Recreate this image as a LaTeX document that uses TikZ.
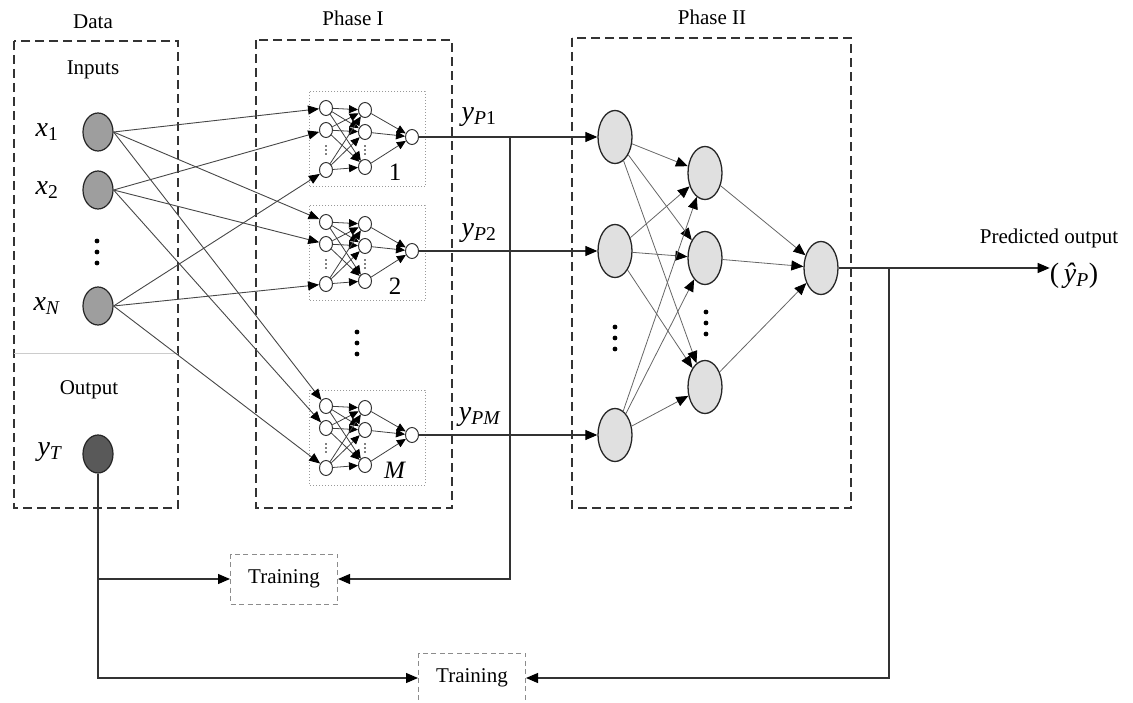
\documentclass[tikz,border=0pt]{standalone}
\usepackage{fontspec}
\setmainfont{Liberation Serif}
\usetikzlibrary{shapes.geometric,arrows.meta,calc}
\newcommand{\setfs}[1]{\fontsize{#1}{#1}\selectfont}
\begin{document}
\begin{tikzpicture}[x=1pt,y=-1pt,
  lbl/.style={font=\setfs{21}, inner sep=0},
  var/.style={font=\setfs{28}, inner sep=0},
  inp/.style={ellipse, draw=black!85, line width=1.2pt, fill=black!38, minimum width=30pt, minimum height=38pt, inner sep=0},
  tgt/.style={inp, fill=black!65},
  sn/.style={ellipse, draw=black!80, line width=1pt, fill=white, minimum width=13pt, minimum height=15pt, inner sep=0},
  bn/.style={ellipse, draw=black!85, line width=1.3pt, fill=black!12, minimum width=34pt, minimum height=53pt, inner sep=0},
  conn/.style={draw=black!80, line width=1.1pt, -{Triangle[length=12pt,width=10pt,color=black]}},
  wire/.style={draw=black!72, line width=0.9pt, -{Triangle[length=11pt,width=9pt,color=black]}},
  pwire/.style={draw=black!60, line width=0.8pt, -{Triangle[length=12pt,width=10pt,color=black]}},
  swire/.style={draw=black!75, line width=0.8pt, -{Triangle[length=9pt,width=8pt,color=black]}},
  phase/.style={draw=black!80, line width=1.4pt, dash pattern=on 9pt off 5pt},
  subbox/.style={draw=black!40, line width=1pt, dotted},
  trn/.style={draw=black!45, line width=1pt, dash pattern=on 5pt off 3.5pt, minimum width=107pt, minimum height=50pt, inner sep=0, font=\setfs{21}},
  dotm/.style={fill=black}
]
\useasboundingbox (0,0) rectangle (1133,703);

% ---------- Data block ----------
\draw[phase] (14,41) rectangle (178,508);
\draw[black!20, line width=1pt] (14,354) -- (178,354);
\node[lbl] (dataT) at (93,22) {Data};
\node[lbl] (inpT) at (93,70) {Inputs};
\node[lbl] (outT) at (89,390) {Output};

\node[inp] (x1) at (98,132) {};
\node[inp] (x2) at (98,190) {};
\node[inp] (xN) at (98,306) {};
\node[tgt] (yT) at (98,454) {};
\node[var] (lx1) at (47,132) {\textit{x}\textsubscript{1}};
\node[var] (lx2) at (47,190) {\textit{x}\textsubscript{2}};
\node[var] (lxN) at (47,306) {\textit{x}\textsubscript{\textit{N}}};
\node[var] (lyT) at (50,452) {\textit{y}\textsubscript{\textit{T}}};
\foreach \yy in {241,252,263} \fill[dotm] (97,\yy) circle (2.4pt);

% ---------- Phase I ----------
\draw[phase] (256,40) rectangle (452,508);
\node[lbl] (p1T) at (353,18) {Phase I};

\foreach \k/\dy/\lab in {1/0/1,2/114/2,3/298/{\textit{M}}} {
  \draw[subbox] (309,92+\dy) rectangle (425,187+\dy);
  \node[sn] (i\k-a) at (326,108+\dy) {};
  \node[sn] (i\k-b) at (326,130+\dy) {};
  \node[sn] (i\k-c) at (326,170+\dy) {};
  \node[sn] (h\k-a) at (365,110+\dy) {};
  \node[sn] (h\k-b) at (365,132+\dy) {};
  \node[sn] (h\k-c) at (365,167+\dy) {};
  \node[sn] (o\k) at (412,137+\dy) {};
  \foreach \yy in {146,150,154} {
    \fill[dotm] (326,\yy+\dy) circle (0.9pt);
    \fill[dotm] (365,\yy+\dy) circle (0.9pt);
  }
  \foreach \a in {a,b,c} {
    \foreach \b in {a,b,c} {
      \draw[swire] (i\k-\a) -- (h\k-\b);
    }
    \draw[swire] (h\k-\a) -- (o\k);
  }
  \node[font=\setfs{25}, inner sep=0] (lab\k) at (395,172+\dy) {\lab};
  \draw[wire] (x1.east) -- (i\k-a);
  \draw[wire] (x2.east) -- (i\k-b);
  \draw[wire] (xN.east) -- (i\k-c);
}
\foreach \yy in {332,343,354} \fill[dotm] (357,\yy) circle (2.4pt);

\node[var] (yp1) at (479,117) {\textit{y}\textsubscript{\textit{P}1}};
\node[var] (yp2) at (479,233) {\textit{y}\textsubscript{\textit{P}2}};
\node[var] (ypM) at (480,417) {\textit{y}\textsubscript{\textit{PM}}};

% ---------- Phase II ----------
\draw[phase] (572,38) rectangle (851,508);
\node[lbl] (p2T) at (712,17) {Phase II};

\node[bn] (pa) at (615,137) {};
\node[bn] (pb) at (615,251) {};
\node[bn] (pc) at (615,435) {};
\node[bn] (qa) at (705,173) {};
\node[bn] (qb) at (705,258) {};
\node[bn] (qc) at (705,387) {};
\node[bn] (r) at (821,268) {};
\foreach \yy in {327,338,349} \fill[dotm] (615,\yy) circle (2.4pt);
\foreach \yy in {312,323,334} \fill[dotm] (706,\yy) circle (2.4pt);

\foreach \a in {pa,pb,pc} {
  \foreach \b in {qa,qb,qc} {
    \draw[pwire] (\a) -- (\b);
  }
}
\foreach \b in {qa,qb,qc} \draw[pwire] (\b) -- (r);

\draw[conn] (o1) -- (pa);
\draw[conn] (o2) -- (pb);
\draw[conn] (o3) -- (pc);

% ---------- outputs ----------
\node[lbl] (predT) at (1049,238) {Predicted output};
\node[var] (yhat) at (1074,276) {(\,\textit{ŷ}\textsubscript{\textit{P}})};
\draw[conn] (r) -- (r -| yhat.west);

% ---------- training ----------
\node[trn] (tr1) at (284,579) {Training};
\node[trn] (tr2) at (472,678) {Training};

\coordinate (j1) at (510,137);
\draw[conn] (j1) |- (tr1.east);
\coordinate (j2) at (889,268);
\draw[conn] (j2) |- (tr2.east);
\draw[conn] (yT.south) |- (tr2.west);
\coordinate (b1) at (yT.south |- tr1.west);
\draw[conn] (b1) -- (tr1.west);
\end{tikzpicture}
\end{document}
